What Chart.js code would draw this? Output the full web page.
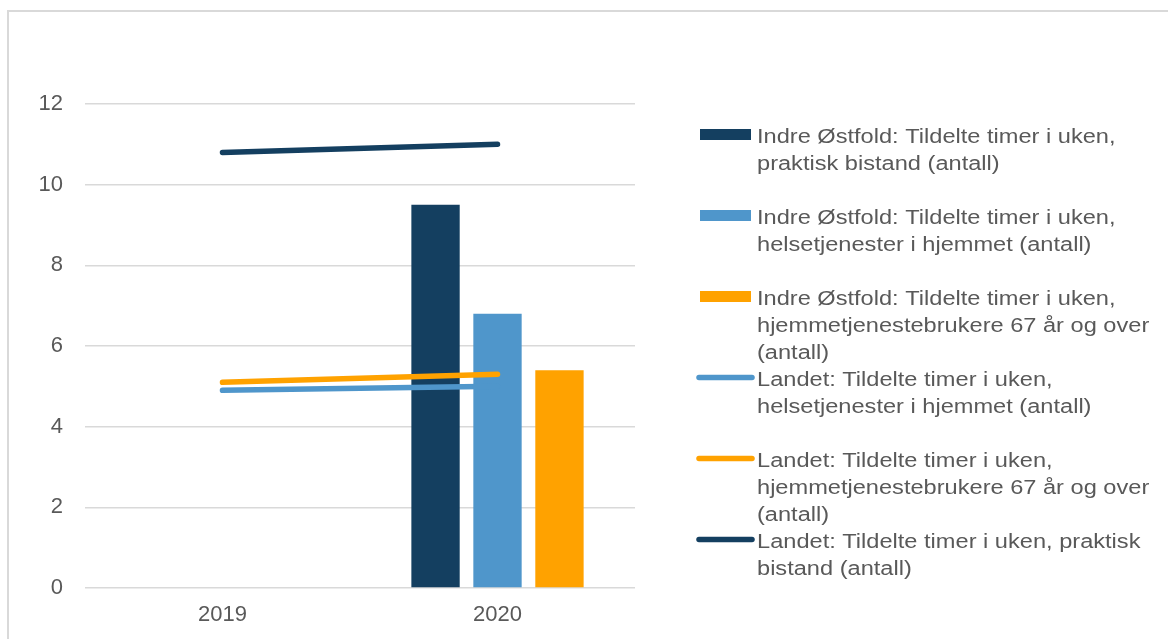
<!DOCTYPE html>
<html lang="no">
<head>
  <meta charset="UTF-8">
  <title>Tildelte timer i uken</title>
  <script src="https://cdn.jsdelivr.net/npm/chart.js"></script>
  <style>
    body {
      margin: 0;
      background: #fff;
      font-family: "Liberation Sans", Arial, sans-serif;
    }
    .frame {
      position: absolute;
      left: 7px;
      top: 10px;
      width: 1200px;
      height: 700px;
      border: 2px solid #d9d9d9;
    }
    #chart {
      position: absolute;
      left: 0;
      top: 0;
    }
  </style>
</head>
<body>
  <div class="frame"></div>
  <canvas id="chart" width="1168" height="639"></canvas>

<script>
  // categories
  const years = ['2019', '2020'];

  // Indre Østfold (bars)
  const indrePraktisk = [null, 9.5];
  const indreHelse = [null, 6.8];
  const indre67 = [null, 5.4];

  // Landet (lines)
  const landetHelse = [4.9, 5.0];
  const landet67 = [5.1, 5.3];
  const landetPraktisk = [10.8, 11.0];

  const yMin = 0, yMax = 12, yStep = 2;

  const NAVY = '#143f60';
  const BLUE = '#4f96cb';
  const ORANGE = '#ffa200';
  const TEXT = '#595959';

  const barDefaults = { type: 'bar', order: 2, categoryPercentage: 0.676, barPercentage: 0.78 };
  const lineDefaults = {
    type: 'line', order: 1, borderWidth: 5.5, pointRadius: 0, pointHoverRadius: 0,
    borderCapStyle: 'round', tension: 0, fill: false
  };

  // legend drawn by hand so the long labels wrap like in the original
  const sideLegend = {
    id: 'sideLegend',
    afterDraw(chart) {
      const ctx = chart.ctx;
      const x0 = chart.chartArea.right + 62;
      const textX = x0 + 60;
      const firstBase = 143, itemStep = 81, lineStep = 27;
      const sx = 1.18, maxW = 415;
      ctx.save();
      ctx.font = '20px "Liberation Sans", Arial, sans-serif';
      ctx.fillStyle = TEXT;
      ctx.textBaseline = 'alphabetic';
      chart.data.datasets.forEach((ds, i) => {
        const base = firstBase + i * itemStep;
        const midY = base - 8.5;
        if (ds.type === 'bar') {
          ctx.fillStyle = ds.backgroundColor;
          ctx.fillRect(x0 + 3, midY - 5.5, 51, 11);
        } else {
          ctx.strokeStyle = ds.borderColor;
          ctx.lineWidth = 5.5;
          ctx.lineCap = 'round';
          ctx.beginPath();
          ctx.moveTo(x0 + 2, midY);
          ctx.lineTo(x0 + 55, midY);
          ctx.stroke();
        }
        // wrap words
        const words = ds.label.split(' ');
        const lines = [];
        let cur = '';
        words.forEach(w => {
          const test = cur ? cur + ' ' + w : w;
          if (ctx.measureText(test).width * sx > maxW && cur) {
            lines.push(cur);
            cur = w;
          } else {
            cur = test;
          }
        });
        if (cur) lines.push(cur);
        ctx.fillStyle = TEXT;
        lines.forEach((ln, k) => {
          ctx.save();
          ctx.translate(textX, base + k * lineStep);
          ctx.scale(sx, 1);
          ctx.fillText(ln, 0, 0);
          ctx.restore();
        });
      });
      ctx.restore();
    }
  };

  new Chart(document.getElementById('chart'), {
    data: {
      labels: years,
      datasets: [
        { ...barDefaults, label: 'Indre Østfold: Tildelte timer i uken, praktisk bistand (antall)', data: indrePraktisk, backgroundColor: NAVY },
        { ...barDefaults, label: 'Indre Østfold: Tildelte timer i uken, helsetjenester i hjemmet (antall)', data: indreHelse, backgroundColor: BLUE },
        { ...barDefaults, label: 'Indre Østfold: Tildelte timer i uken, hjemmetjenestebrukere 67 år og over (antall)', data: indre67, backgroundColor: ORANGE },
        { ...lineDefaults, label: 'Landet: Tildelte timer i uken, helsetjenester i hjemmet (antall)', data: landetHelse, borderColor: BLUE },
        { ...lineDefaults, label: 'Landet: Tildelte timer i uken, hjemmetjenestebrukere 67 år og over (antall)', data: landet67, borderColor: ORANGE },
        { ...lineDefaults, label: 'Landet: Tildelte timer i uken, praktisk bistand (antall)', data: landetPraktisk, borderColor: NAVY }
      ]
    },
    options: {
      responsive: false,
      animation: false,
      layout: { padding: { left: 0, right: 533, top: 104, bottom: 0 } },
      plugins: {
        legend: { display: false },
        tooltip: { enabled: false }
      },
      scales: {
        x: {
          grid: { display: false },
          border: { display: false },
          ticks: { color: TEXT, padding: 6, font: { family: '"Liberation Sans", Arial, sans-serif', size: 22 } },
          afterFit(scale) { scale.height = 51; }
        },
        y: {
          min: yMin,
          max: yMax,
          ticks: { stepSize: yStep, color: TEXT, padding: 22, font: { family: '"Liberation Sans", Arial, sans-serif', size: 22 } },
          grid: { color: '#d9d9d9', lineWidth: 1.5, drawTicks: false },
          border: { display: false },
          afterFit(scale) { scale.width = 85; }
        }
      }
    },
    plugins: [sideLegend]
  });
</script>
</body>
</html>
